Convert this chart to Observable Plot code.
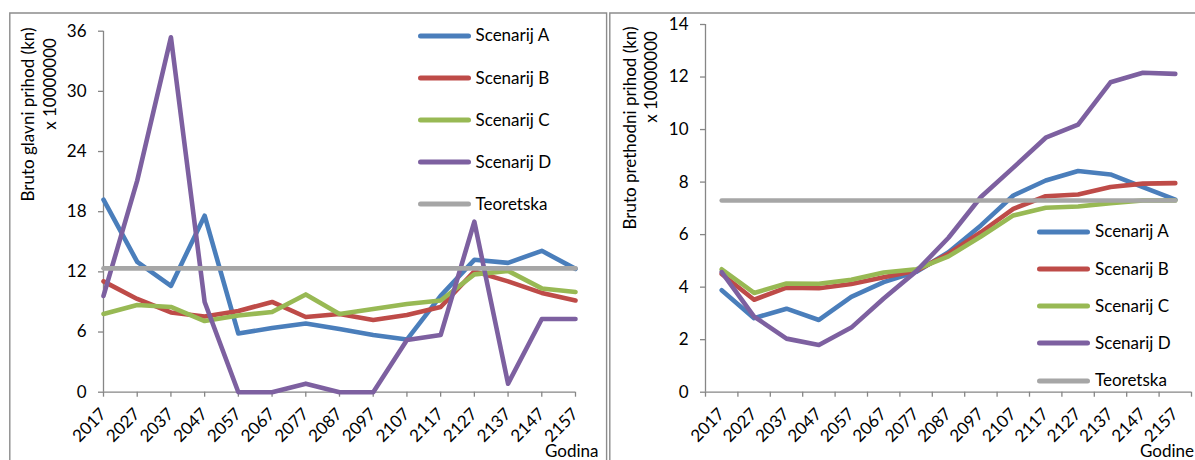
<!DOCTYPE html>
<html>
<head>
<meta charset="utf-8">
<script src="https://cdn.jsdelivr.net/npm/d3@7"></script>
<script src="https://cdn.jsdelivr.net/npm/@observablehq/plot@0.6"></script>
<style>
  html, body { margin: 0; padding: 0; background: #fff; }
  #root { position: relative; width: 1195px; height: 460px; overflow: hidden; font-family: Lato, "Open Sans", sans-serif; }
  .abs { position: absolute; left: 0; top: 0; }
  .leg { position: absolute; font-size: 17px; color: #000; white-space: nowrap; line-height: 1; }
  .leg svg { position: absolute; left: 0; top: 0; overflow: visible; }
  .leg span { position: absolute; }
</style>
</head>
<body>
<div id="root"></div>
<script>
// ---------- data ----------
const years = [2017, 2027, 2037, 2047, 2057, 2067, 2077, 2087, 2097, 2107, 2117, 2127, 2137, 2147, 2157];
const seriesNames = ["Scenarij A", "Scenarij B", "Scenarij C", "Scenarij D", "Teoretska"];
const seriesColors = ["#4A7EBB", "#BE4B48", "#98B954", "#7D60A0", "#A6A6A6"];

// Left chart: Bruto glavni prihod (kn) x 10000000
const glavniA = [19.2, 13.0, 10.6, 17.6, 5.85, 6.4, 6.85, 6.3, 5.7, 5.25, 9.6, 13.2, 12.9, 14.1, 12.3];
const glavniB = [11.05, 9.3, 7.95, 7.55, 8.1, 9.0, 7.5, 7.8, 7.2, 7.7, 8.5, 12.05, 11.05, 9.9, 9.15];
const glavniC = [7.8, 8.7, 8.5, 7.1, 7.65, 8.0, 9.75, 7.8, 8.3, 8.8, 9.15, 11.75, 12.1, 10.35, 10.0];
const glavniD = [9.6, 21.1, 35.4, 9.0, 0, 0, 0.85, 0, 0, 5.2, 5.7, 17.0, 0.85, 7.3, 7.3];
const glavniTeoretska = 12.35;
const glavniTicks = [0, 6, 12, 18, 24, 30, 36];

// Right chart: Bruto prethodni prihod (kn) x 10000000
const prethA = [3.88, 2.82, 3.18, 2.75, 3.63, 4.19, 4.58, 5.33, 6.35, 7.49, 8.06, 8.42, 8.29, 7.81, 7.33];
const prethB = [4.5, 3.52, 3.98, 3.96, 4.12, 4.38, 4.62, 5.27, 6.09, 6.98, 7.46, 7.53, 7.81, 7.94, 7.96];
const prethC = [4.68, 3.78, 4.14, 4.13, 4.28, 4.56, 4.68, 5.17, 5.93, 6.73, 7.02, 7.07, 7.2, 7.3, 7.3];
const prethD = [4.57, 2.88, 2.04, 1.8, 2.46, 3.57, 4.6, 5.88, 7.43, 8.55, 9.69, 10.19, 11.8, 12.16, 12.12];
const prethTeoretska = 7.3;
const prethTicks = [0, 2, 4, 6, 8, 10, 12, 14];
const prethBoundaries = [2012, 2022, 2032, 2042, 2052, 2062, 2072, 2082, 2092, 2102, 2112, 2122, 2132, 2142, 2152, 2162];

// ---------- helpers ----------
function rows(seriesValues, teor) {
  const out = [];
  seriesValues.forEach((vals, i) => vals.forEach((v, j) => out.push({year: years[j], value: v, series: seriesNames[i]})));
  years.forEach(y => out.push({year: y, value: teor, series: seriesNames[4]}));
  return out;
}
const axisGray = "#868686";
const font = "Lato, 'Open Sans', sans-serif";
const root = document.getElementById("root");

// ---------- frames and titles (overlay) ----------
const NS = "http://www.w3.org/2000/svg";
const deco = document.createElementNS(NS, "svg");
deco.setAttribute("width", 1195); deco.setAttribute("height", 460);
deco.setAttribute("class", "abs");
deco.innerHTML = `
  <polyline points="9.8,470 9.8,13 606.6,13 606.6,470" fill="none" stroke="#8c8c8c" stroke-width="1.4"/>
  <polyline points="609.8,470 609.8,13 1200,13" fill="none" stroke="#8c8c8c" stroke-width="1.4"/>
  <g font-family="${font}" font-size="17" fill="#000">
    <text transform="translate(34,114.5) rotate(-90)" text-anchor="middle">Bruto glavni prihod (kn)</text>
    <text transform="translate(55.5,84) rotate(-90)" text-anchor="middle">x 10000000</text>
    <text x="545" y="457">Godina</text>
    <text transform="translate(635.5,128) rotate(-90)" text-anchor="middle">Bruto prethodni prihod (kn)</text>
    <text transform="translate(657,77) rotate(-90)" text-anchor="middle">x 10000000</text>
    <text x="1194" y="457" text-anchor="end">Godine</text>
  </g>`;
root.appendChild(deco);

// ---------- left chart ----------
const left = Plot.plot({
  width: 605, height: 460,
  marginLeft: 103, marginRight: 30, marginTop: 30.7, marginBottom: 68.3,
  style: {fontFamily: font, fontSize: "17px", color: "#000", background: "transparent", overflow: "visible"},
  x: {domain: [2017, 2157]},
  y: {domain: [0, 36]},
  color: {domain: seriesNames, range: seriesColors},
  marks: [
    Plot.ruleX([2017], {stroke: axisGray, strokeWidth: 1.3}),
    Plot.ruleY([0], {stroke: axisGray, strokeWidth: 1.3}),
    Plot.axisY({ticks: glavniTicks, tickSize: 5, tickPadding: 12, stroke: axisGray, strokeWidth: 1.3, label: null}),
    Plot.axisX({ticks: years, tickSize: 5, tickPadding: 14, tickRotate: -45, tickFormat: d => String(d), stroke: axisGray, strokeWidth: 1.3, label: null}),
    Plot.line(rows([glavniA, glavniB, glavniC, glavniD], glavniTeoretska),
      {x: "year", y: "value", z: "series", stroke: "series", strokeWidth: 4.6, strokeLinejoin: "round", strokeLinecap: "round"})
  ]
});
left.classList.add("abs");
left.style.left = "0px";
root.appendChild(left);

// ---------- right chart ----------
const right = Plot.plot({
  width: 595, height: 460,
  marginLeft: 105, marginRight: 4, marginTop: 24, marginBottom: 68.3,
  style: {fontFamily: font, fontSize: "17px", color: "#000", background: "transparent", overflow: "visible"},
  x: {domain: [2012, 2162]},
  y: {domain: [0, 14]},
  color: {domain: seriesNames, range: seriesColors},
  marks: [
    Plot.ruleX([2012], {stroke: axisGray, strokeWidth: 1.3}),
    Plot.ruleY([0], {stroke: axisGray, strokeWidth: 1.3}),
    Plot.axisY({ticks: prethTicks, tickSize: 5, tickPadding: 12, stroke: axisGray, strokeWidth: 1.3, label: null}),
    Plot.axisX({ticks: prethBoundaries, tickSize: 5, tickFormat: () => "", stroke: axisGray, strokeWidth: 1.3, label: null}),
    Plot.axisX({ticks: years, tickSize: 0, tickPadding: 19, tickRotate: -45, tickFormat: d => String(d), label: null}),
    Plot.line(rows([prethA, prethB, prethC, prethD], prethTeoretska),
      {x: "year", y: "value", z: "series", stroke: "series", strokeWidth: 4.6, strokeLinejoin: "round", strokeLinecap: "round"})
  ]
});
right.classList.add("abs");
right.style.left = "600px";
root.appendChild(right);

// ---------- legends ----------
function legend(x0, rowsY, textX) {
  seriesNames.forEach((name, i) => {
    const d = document.createElement("div");
    d.className = "leg";
    d.style.left = x0 + "px";
    d.style.top = rowsY[i] + "px";
    d.innerHTML = `<svg width="60" height="1"><line x1="2.5" y1="0" x2="50.5" y2="0" stroke="${seriesColors[i]}" stroke-width="5" stroke-linecap="round"/></svg>
      <span style="left:${textX}px; top:-9.5px">${name}</span>`;
    root.appendChild(d);
  });
}
legend(418, [35.7, 78.0, 120.0, 162.2, 204.0], 57.5);
legend(1037, [231.7, 269.2, 306.2, 343.4, 380.7], 58);
</script>
</body>
</html>
